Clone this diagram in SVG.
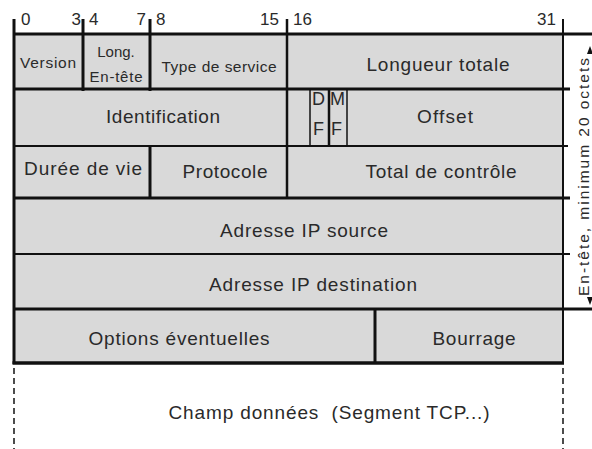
<svg xmlns="http://www.w3.org/2000/svg" width="592" height="449" viewBox="0 0 592 449">
  <defs>
    <style>
      .t { font-family: "Liberation Sans", Arial, sans-serif; fill: #2a2a2a; }
      .l { font-size: 19px; text-anchor: middle; }
      .n { font-size: 17px; }
      .f { font-size: 18px; }
      .ln { stroke: #111; fill: none; }
      .dash { stroke: #111; stroke-width: 1.5; stroke-dasharray: 6 4; fill: none; }
      .cell { fill: #d9d9d9; }
    </style>
  </defs>
  <rect width="592" height="449" fill="#ffffff"/>
  <rect class="cell" x="14" y="34" width="549" height="329"/>

  <g id="bit-scale">
    <text class="t n" x="21" y="25">0</text>
    <text class="t n" x="81" y="25" text-anchor="end">3</text>
    <text class="t n" x="89" y="25">4</text>
    <text class="t n" x="146" y="25" text-anchor="end">7</text>
    <text class="t n" x="156" y="25">8</text>
    <text class="t n" x="279" y="25" text-anchor="end">15</text>
    <text class="t n" x="293" y="25">16</text>
    <text class="t n" x="556" y="25" text-anchor="end">31</text>
  </g>

  <g id="version"><text class="t" x="48" y="68" font-size="15.5" text-anchor="middle" textLength="56">Version</text></g>
  <g id="long-entete">
    <text class="t" x="116" y="57" font-size="15" text-anchor="middle">Long.</text>
    <text class="t" x="116" y="82" font-size="15" text-anchor="middle" textLength="53">En-tête</text>
  </g>
  <g id="type-service"><text class="t" x="219" y="72" font-size="15.5" text-anchor="middle" textLength="115">Type de service</text></g>
  <g id="longueur-totale"><text class="t l" x="438" y="71" textLength="143">Longueur totale</text></g>
  <g id="identification"><text class="t l" x="163" y="123" textLength="114">Identification</text></g>
  <g id="df">
    <text class="t f" x="312" y="105">D</text>
    <text class="t f" x="313" y="135">F</text>
  </g>
  <g id="mf">
    <text class="t f" x="330" y="105">M</text>
    <text class="t f" x="331" y="135">F</text>
  </g>
  <g id="offset"><text class="t l" x="445" y="123" textLength="56">Offset</text></g>
  <g id="duree-vie"><text class="t l" x="83" y="175" textLength="118">Durée de vie</text></g>
  <g id="protocole"><text class="t l" x="225" y="178" textLength="85">Protocole</text></g>
  <g id="total-controle"><text class="t l" x="441" y="178" textLength="151">Total de contrôle</text></g>
  <g id="ip-source"><text class="t l" x="304" y="237" textLength="168">Adresse IP source</text></g>
  <g id="ip-destination"><text class="t l" x="313" y="291" textLength="208">Adresse IP destination</text></g>
  <g id="options"><text class="t l" x="179" y="345" textLength="181">Options éventuelles</text></g>
  <g id="bourrage"><text class="t l" x="474" y="345" textLength="83">Bourrage</text></g>
  <g id="donnees"><text class="t l" x="329" y="419" textLength="321" xml:space="preserve">Champ données  (Segment TCP...)</text></g>
  <g id="entete-label">
    <text class="t" transform="translate(589,177) rotate(-90)" x="0" y="0" font-size="15.5" text-anchor="middle" textLength="238">En-tête, minimum 20 octets</text>
    <polygon points="590,46 587,54 593,54" fill="#111"/>
    <polygon points="590,305 587,297 593,297" fill="#111"/>
  </g>

  <g id="connectors">
    <line class="ln" x1="14" y1="34" x2="592" y2="34" stroke-width="3"/>
    <line class="ln" x1="14" y1="89" x2="570" y2="89" stroke-width="3"/>
    <line class="ln" x1="14" y1="146" x2="568" y2="146" stroke-width="2"/>
    <line class="ln" x1="14" y1="198" x2="570" y2="198" stroke-width="3"/>
    <line class="ln" x1="14" y1="254" x2="570" y2="254" stroke-width="2"/>
    <line class="ln" x1="14" y1="309" x2="592" y2="309" stroke-width="3"/>
    <line class="ln" x1="12.5" y1="363" x2="564" y2="363" stroke-width="3.5"/>

    <line class="ln" x1="14" y1="19" x2="14" y2="364" stroke-width="3"/>
    <line class="ln" x1="563" y1="19" x2="563" y2="364" stroke-width="2"/>
    <line class="ln" x1="83" y1="19" x2="83" y2="91" stroke-width="3"/>
    <line class="ln" x1="150" y1="19" x2="150" y2="91" stroke-width="3"/>
    <line class="ln" x1="150" y1="145" x2="150" y2="199" stroke-width="3"/>
    <line class="ln" x1="287" y1="19" x2="287" y2="199" stroke-width="2.5"/>
    <line class="ln" x1="310" y1="89" x2="310" y2="146" stroke-width="1.5"/>
    <line class="ln" x1="329" y1="89" x2="329" y2="146" stroke-width="2.5"/>
    <line class="ln" x1="347" y1="89" x2="347" y2="146" stroke-width="1.5"/>
    <line class="ln" x1="375" y1="309" x2="375" y2="363" stroke-width="3"/>

    <line class="dash" x1="14" y1="368" x2="14" y2="449"/>
    <line class="dash" x1="563" y1="368" x2="563" y2="449"/>
  </g>
</svg>
